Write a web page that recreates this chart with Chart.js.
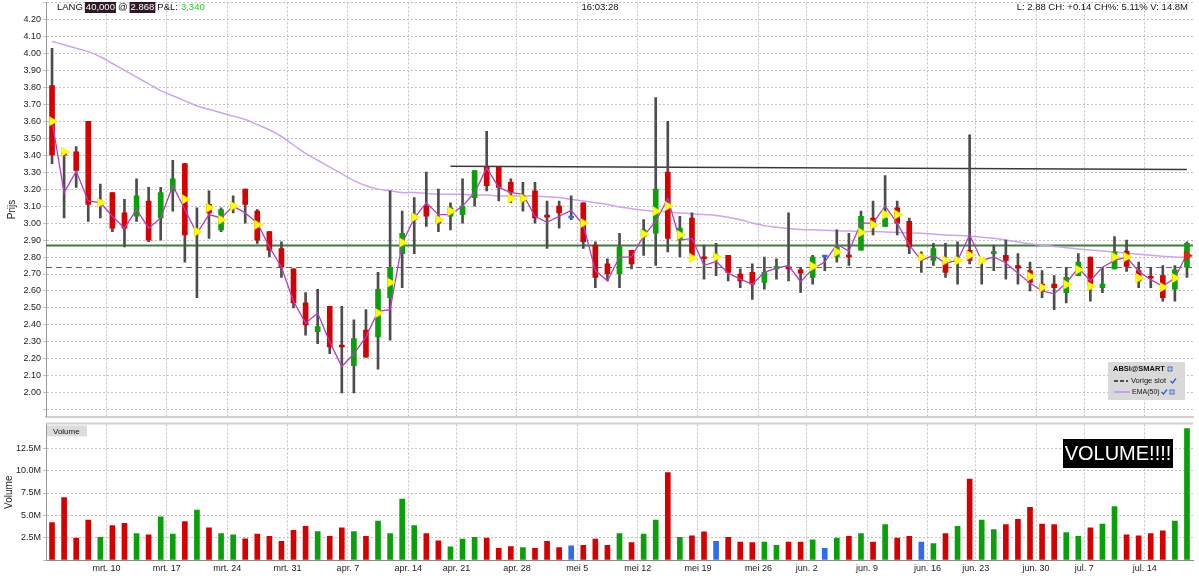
<!DOCTYPE html>
<html>
<head>
<meta charset="utf-8">
<script src="https://cdn.jsdelivr.net/npm/chart.js@4.4.0/dist/chart.umd.min.js"></script>
<style>
  body { margin: 0; background: #fff; }
  #wrap { position: relative; width: 1199px; height: 580px; overflow: hidden; }
  #price { position: absolute; left: 0; top: -5px; }
  #vol { position: absolute; left: 0; top: 417px; }
</style>
</head>
<body>
<div id="wrap">
  <canvas id="price" width="1199" height="429"></canvas>
  <canvas id="vol" width="1199" height="163"></canvas>
</div>
<script>
// trading days shown in the chart
const categories = [
  '2014-03-03','2014-03-04','2014-03-05','2014-03-06','2014-03-07','2014-03-10','2014-03-11','2014-03-12','2014-03-13','2014-03-14',
  '2014-03-17','2014-03-18','2014-03-19','2014-03-20','2014-03-21','2014-03-24','2014-03-25','2014-03-26','2014-03-27','2014-03-28',
  '2014-03-31','2014-04-01','2014-04-02','2014-04-03','2014-04-04','2014-04-07','2014-04-08','2014-04-09','2014-04-10','2014-04-11',
  '2014-04-14','2014-04-15','2014-04-16','2014-04-17','2014-04-21','2014-04-22','2014-04-23','2014-04-24','2014-04-25','2014-04-28',
  '2014-04-29','2014-04-30','2014-05-01','2014-05-02','2014-05-05','2014-05-06','2014-05-07','2014-05-08','2014-05-09','2014-05-12',
  '2014-05-13','2014-05-14','2014-05-15','2014-05-16','2014-05-19','2014-05-20','2014-05-21','2014-05-22','2014-05-23','2014-05-27',
  '2014-05-28','2014-05-29','2014-05-30','2014-06-02','2014-06-03','2014-06-04','2014-06-05','2014-06-06','2014-06-09','2014-06-10',
  '2014-06-11','2014-06-12','2014-06-13','2014-06-16','2014-06-17','2014-06-18','2014-06-19','2014-06-23','2014-06-24','2014-06-25',
  '2014-06-26','2014-06-27','2014-06-30','2014-07-01','2014-07-02','2014-07-03','2014-07-07','2014-07-08','2014-07-09','2014-07-10',
  '2014-07-11','2014-07-14','2014-07-15','2014-07-16','2014-07-17'
];

// week ticks on the time axis
const tickDates = ['2014-03-10','2014-03-17','2014-03-24','2014-03-31','2014-04-07','2014-04-14','2014-04-21','2014-04-28',
  '2014-05-05','2014-05-12','2014-05-19','2014-05-27','2014-06-02','2014-06-09','2014-06-16','2014-06-23','2014-06-30',
  '2014-07-07','2014-07-14'];
const tickLabels = ['mrt. 10','mrt. 17','mrt. 24','mrt. 31','apr. 7','apr. 14','apr. 21','apr. 28',
  'mei 5','mei 12','mei 19','mei 26','jun. 2','jun. 9','jun. 16','jun. 23','jun. 30','jul. 7','jul. 14'];

// OHLC
const opens = [3.81,3.42,3.42,3.60,3.11,3.18,3.06,3.04,3.13,3.03, 3.19,3.35,2.94,3.11,2.96,3.09,3.20,3.07,2.95,2.85,
  2.73,2.53,2.36,2.51,2.28,2.16,2.37,2.33,2.56,2.82, 3.02,3.10,3.03,3.04,3.05,3.15,3.33,3.33,3.24,3.13,
  3.19,3.045,3.10,3.03,3.12,2.87,2.76,2.70,2.84,2.92, 2.94,3.30,2.90,3.03,2.80,2.80,2.81,2.70,2.71,2.65,
  2.73,2.74,2.725,2.68,2.80,2.80,2.81,2.84,3.03,2.98, 3.09,3.01,2.80,2.78,2.77,2.775,2.84,2.775,2.82,2.81,
  2.75,2.72,2.64,2.64,2.59,2.69,2.80,2.62,2.73,2.835, 2.72,2.685,2.69,2.61,2.74];
const highs = [4.03,3.42,3.45,3.60,3.23,3.18,3.14,3.26,3.21,3.21, 3.37,3.35,3.09,3.19,3.09,3.16,3.20,3.08,2.95,2.89,
  2.73,2.59,2.61,2.51,2.51,2.43,2.49,2.71,3.19,3.07, 3.15,3.30,3.20,3.12,3.26,3.31,3.54,3.33,3.26,3.24,
  3.24,3.13,3.13,3.16,3.12,2.89,2.79,2.94,2.84,3.02, 3.74,3.60,3.04,3.06,2.87,2.88,2.81,2.73,2.76,2.80,
  2.79,3.06,2.74,2.81,2.80,2.96,2.94,3.07,3.13,3.28, 3.13,3.03,2.83,2.88,2.88,2.89,3.52,2.79,2.87,2.90,
  2.82,2.77,2.72,2.69,2.74,2.82,2.80,2.74,2.92,2.90, 2.77,2.74,2.75,2.75,2.89];
const lows = [3.35,3.03,3.21,3.01,3.03,2.95,2.86,3.01,2.89,2.90, 3.07,2.77,2.56,2.91,2.95,3.06,3.00,2.88,2.80,2.68,
  2.50,2.34,2.29,2.23,2.00,2.00,2.21,2.14,2.31,2.62, 2.82,2.98,2.95,2.96,3.00,3.10,3.19,3.13,3.12,3.07,
  3.00,2.85,2.97,3.02,2.85,2.62,2.66,2.62,2.73,2.81, 2.75,2.83,2.80,2.80,2.67,2.69,2.66,2.62,2.55,2.61,
  2.67,2.66,2.59,2.64,2.72,2.77,2.75,2.84,2.93,2.98, 2.93,2.82,2.71,2.75,2.68,2.64,2.76,2.64,2.72,2.67,
  2.64,2.60,2.56,2.49,2.53,2.69,2.54,2.59,2.73,2.715, 2.62,2.62,2.54,2.54,2.68];
const closes = [3.40,3.40,3.31,3.11,3.13,2.97,2.97,3.16,2.90,3.18, 3.26,2.93,2.96,3.06,3.08,3.11,3.11,2.90,2.84,2.74,
  2.53,2.40,2.39,2.27,2.27,2.32,2.21,2.61,2.74,2.94, 3.05,3.04,3.00,3.09,3.10,3.31,3.22,3.21,3.18,3.16,
  3.03,3.035,3.06,3.03,2.89,2.68,2.70,2.86,2.76,2.96, 3.20,2.91,2.97,2.81,2.79,2.80,2.71,2.66,2.64,2.71,
  2.745,2.73,2.705,2.80,2.80,2.86,2.80,3.04,2.98,3.03, 3.00,2.86,2.80,2.85,2.71,2.785,2.78,2.785,2.83,2.78,
  2.735,2.65,2.60,2.62,2.68,2.77,2.64,2.64,2.83,2.745, 2.66,2.675,2.56,2.725,2.88];

// thin magenta price line
const priceLine = [3.60,3.18,3.305,3.13,3.12,3.04,2.97,3.08,2.97,3.03, 3.22,3.08,2.94,3.05,3.03,3.10,3.06,3.00,2.86,2.74,
  2.54,2.41,2.47,2.30,2.155,2.23,2.33,2.48,2.49,2.88, 3.03,3.12,3.05,3.05,3.10,3.18,3.325,3.21,3.18,3.17,
  3.04,3.005,3.04,3.075,2.99,2.72,2.66,2.80,2.80,2.925, 3.01,3.145,2.90,2.91,2.75,2.775,2.705,2.67,2.64,2.71,
  2.735,2.75,2.655,2.73,2.77,2.875,2.835,3.00,3.00,3.10, 3.00,2.87,2.78,2.81,2.765,2.78,2.93,2.78,2.80,2.765,
  2.705,2.647,2.60,2.583,2.647,2.735,2.66,2.74,2.78,2.80, 2.715,2.667,2.628,2.676,2.818];

// EMA(50)
const ema50 = [4.07,4.05,4.03,4.01,3.98,3.94,3.90,3.86,3.82,3.78, 3.75,3.72,3.69,3.67,3.65,3.63,3.61,3.58,3.55,3.51,
  3.46,3.41,3.37,3.33,3.29,3.25,3.22,3.20,3.19,3.18, 3.18,3.175,3.17,3.17,3.17,3.165,3.165,3.16,3.16,3.16,
  3.16,3.155,3.15,3.14,3.13,3.12,3.11,3.095,3.085,3.075, 3.07,3.065,3.06,3.055,3.05,3.045,3.035,3.02,3.00,2.985,
  2.975,2.968,2.962,2.96,2.958,2.955,2.953,2.95,2.95,2.948, 2.945,2.942,2.94,2.935,2.93,2.927,2.923,2.917,2.91,2.90,
  2.888,2.878,2.87,2.862,2.855,2.848,2.842,2.836,2.83,2.823, 2.816,2.81,2.805,2.80,2.797];

// trade arrows
const arrows = [3.60,3.42,null,null,3.12,null,null,null,null,null, null,3.14,2.95,3.09,3.02,3.10,null,2.99,null,null,
  null,null,null,null,null,null,null,2.47,2.65,2.885, 3.035,null,3.02,3.07,null,null,null,null,3.145,3.145,
  null,null,null,null,3.00,null,null,null,null,2.935, 3.07,3.10,2.93,2.795,null,2.80,null,null,null,null,
  null,null,null,2.745,null,2.83,null,2.945,2.99,3.05, 3.05,null,2.80,null,2.78,2.78,2.81,2.78,null,null,
  null,2.686,2.62,null,2.638,2.725,2.628,null,2.80,2.80, 2.676,null,2.622,2.676,2.808];

// volume, millions
const volume = [4.2,7.0,2.45,4.47,2.53,3.85,4.1,2.97,2.82,4.83, 2.89,4.29,5.6,3.59,2.97,2.82,2.38,2.89,2.64,2.09,
  3.33,3.77,3.19,2.64,3.59,3.19,2.64,4.36,2.97,6.81, 3.85,2.97,2.16,1.47,2.34,2.53,2.45,1.32,1.50,1.39,
  1.32,2.09,1.39,1.58,1.65,2.34,1.65,2.97,1.94,2.89, 4.47,9.78,2.53,2.71,3.15,2.09,2.53,2.01,1.94,2.01,
  1.65,2.01,2.01,2.27,1.32,2.45,2.64,2.97,2.01,3.96, 2.45,2.64,2.01,1.83,2.97,3.77,9.05,4.47,3.41,3.96,
  4.54,5.9,4.03,3.96,3.08,2.64,3.59,4.03,5.97,2.82, 2.71,2.97,3.26,4.36,14.7];

// reference levels
const lastPrice = 2.868;
const prevClose = 2.74;
const trendFrom = 33, trendTo = 94;
const trendStart = 3.335, trendEnd = 3.315;

const RED = '#d60000', GREEN = '#0aa00a', BLUE = '#2f6cf0';
const FONT = '"Liberation Sans", Arial, sans-serif';
Chart.defaults.font.family = FONT;
Chart.defaults.font.size = 9;
Chart.defaults.color = '#222';

const candleColor = i => closes[i] > opens[i] ? GREEN : (closes[i] < opens[i] ? RED : BLUE);
const weekIdx = tickDates.map(d => categories.indexOf(d));
const weekGrid = ctx => weekIdx.includes(ctx.index) ? '#c2c2c2' : 'rgba(0,0,0,0)';

const bodies = categories.map((c, i) => [opens[i], closes[i]]);
const wicks = categories.map((c, i) => [lows[i], highs[i]]);
const trend = categories.map((c, i) => i === trendFrom ? trendStart : (i === trendTo ? trendEnd : null));

const levelsPlugin = {
  id: 'levels',
  beforeDatasetsDraw(chart) {
    const { ctx, chartArea: a, scales: { y } } = chart;
    ctx.save();
    ctx.strokeStyle = '#666';
    ctx.lineWidth = 1;
    ctx.setLineDash([6, 4]);
    let py = Math.round(y.getPixelForValue(prevClose)) + 0.5;
    ctx.beginPath(); ctx.moveTo(a.left, py); ctx.lineTo(a.right, py); ctx.stroke();
    ctx.setLineDash([]);
    ctx.strokeStyle = '#3d7d3d';
    ctx.lineWidth = 2;
    py = y.getPixelForValue(lastPrice);
    ctx.beginPath(); ctx.moveTo(a.left, py); ctx.lineTo(a.right, py); ctx.stroke();
    ctx.restore();
  }
};

// canvas is shifted up by 5px, so page y = local y - 5
const headerPlugin = {
  id: 'header',
  afterDraw(chart) {
    const c = chart.ctx;
    c.save();
    c.font = '9.5px ' + FONT;
    c.textBaseline = 'middle';
    let x = 57;
    const y = 12.5;
    const put = (t, col, bg) => {
      const w = c.measureText(t).width;
      if (bg) { c.fillStyle = bg; c.fillRect(x - 1, 7, w + 2, 11); }
      c.fillStyle = col;
      c.fillText(t, x, y);
      x += w + 3;
    };
    put('LANG', '#111');
    put('40,000', '#fff', '#2e1a24');
    put('@', '#111');
    put('2.868', '#fff', '#2e1a24');
    put('P&L:', '#111');
    put('3,340', '#22d022');
    c.fillStyle = '#111';
    c.textAlign = 'center';
    c.fillText('16:03:28', 600, y);
    c.textAlign = 'right';
    c.fillText('L: 2.88 CH: +0.14 CH%: 5.11% V: 14.8M', 1188, y);

    // legend box
    const bx = 1108, by = 367;
    c.fillStyle = '#d9d9d9';
    c.fillRect(bx, by, 77, 38);
    c.textAlign = 'left';
    c.fillStyle = '#111';
    c.font = 'bold 7.5px ' + FONT;
    c.fillText('ABSI@SMART', bx + 5, by + 7);
    c.font = '7.5px ' + FONT;
    c.fillText('Vorige slot', bx + 23, by + 19);
    c.font = '7px ' + FONT;
    c.fillText('EMA(50)', bx + 24, by + 30);
    c.strokeStyle = '#222';
    c.lineWidth = 1.5;
    c.setLineDash([4, 2]);
    c.beginPath(); c.moveTo(bx + 6, by + 19); c.lineTo(bx + 20, by + 19); c.stroke();
    c.setLineDash([]);
    c.strokeStyle = '#c9a0f0';
    c.lineWidth = 2;
    c.beginPath(); c.moveTo(bx + 6, by + 30); c.lineTo(bx + 22, by + 30); c.stroke();
    const check = (cx, cy) => {
      c.strokeStyle = '#2a62d8'; c.lineWidth = 1.3;
      c.beginPath(); c.moveTo(cx - 2.5, cy); c.lineTo(cx - 0.5, cy + 2); c.lineTo(cx + 3, cy - 2.5); c.stroke();
    };
    const globe = (cx, cy) => {
      c.fillStyle = '#5a7fb8'; c.beginPath(); c.arc(cx, cy, 3, 0, Math.PI * 2); c.fill();
      c.strokeStyle = '#dfe8f5'; c.lineWidth = 0.8;
      c.beginPath(); c.moveTo(cx - 3, cy); c.lineTo(cx + 3, cy); c.moveTo(cx, cy - 3); c.lineTo(cx, cy + 3); c.stroke();
    };
    globe(bx + 62, by + 7);
    check(bx + 65, by + 19);
    check(bx + 56, by + 30);
    globe(bx + 64, by + 30);
    c.restore();
  }
};

new Chart(document.getElementById('price'), {
  type: 'bar',
  data: {
    labels: categories,
    datasets: [
      { type: 'line', label: 'arrows', data: arrows, showLine: false, pointStyle: 'triangle', rotation: 90,
        pointRadius: 5.5, pointHoverRadius: 5.5, pointBorderWidth: 0.5,
        pointBackgroundColor: ctx => ctx.dataIndex === arrows.length - 1 ? '#f02020' : '#ffff00',
        pointBorderColor: ctx => ctx.dataIndex === arrows.length - 1 ? '#d01010' : '#e6e600', order: 0 },
      { type: 'line', label: 'price', data: priceLine, borderColor: '#b23ec6', borderWidth: 1.3,
        pointRadius: 0, tension: 0, order: 1 },
      { type: 'bar', label: 'body', data: bodies, grouped: false, barThickness: 5, minBarLength: 2,
        backgroundColor: ctx => candleColor(ctx.dataIndex), order: 2 },
      { type: 'bar', label: 'wick', data: wicks, grouped: false, barThickness: 2,
        backgroundColor: '#4d4d4d', order: 3 },
      { type: 'line', label: 'trend', data: trend, spanGaps: true, borderColor: '#3a3a3a', borderWidth: 1.5,
        pointRadius: 0, order: 4 },
      { type: 'line', label: 'EMA(50)', data: ema50, borderColor: '#cba4f4', borderWidth: 1.5,
        pointRadius: 0, tension: 0.4, order: 5 }
    ]
  },
  options: {
    responsive: false,
    animation: false,
    devicePixelRatio: 1,
    layout: { padding: { left: 0, right: 6, top: 0, bottom: 4 } },
    plugins: { legend: { display: false }, tooltip: { enabled: false } },
    scales: {
      x: {
        offset: true,
        ticks: { display: false, autoSkip: false },
        grid: { color: weekGrid, offset: true, drawTicks: false },
        border: { display: true, color: '#cfcfcf', width: 2, dash: [2, 2] }
      },
      y: {
        min: 1.86, max: 4.30,
        ticks: { stepSize: 0.1, includeBounds: false, padding: 2, color: '#222',
          callback: v => (v < 1.95 || v > 4.25) ? '' : v.toFixed(2) },
        grid: { color: '#c2c2c2', tickLength: 3 },
        border: { display: true, color: '#9a9a9a', dash: [2, 2] },
        title: { display: true, text: 'Prijs', color: '#222', font: { size: 10 }, padding: { top: 6, bottom: 0 } },
        afterFit(s) { s.width = 46; }
      }
    }
  },
  plugins: [levelsPlugin, headerPlugin]
});

// volume canvas starts at page y 417
const volPlugin = {
  id: 'volDecor',
  afterDraw(chart) {
    const { ctx: c, chartArea: a } = chart;
    c.save();
    c.strokeStyle = '#cfcfcf';
    c.lineWidth = 2;
    c.beginPath(); c.moveTo(a.left, a.top - 1); c.lineTo(a.right, a.top - 1); c.stroke();
    c.fillStyle = '#dcdcdc';
    c.fillRect(a.left + 1, a.top + 1, 40, 11);
    c.fillStyle = '#111';
    c.font = '8px ' + FONT;
    c.textBaseline = 'middle';
    c.fillText('Volume', a.left + 7, a.top + 7);
    c.fillStyle = '#000';
    c.fillRect(1063, 22, 110, 29);
    c.fillStyle = '#fff';
    c.font = '20px ' + FONT;
    c.textAlign = 'center';
    c.fillText('VOLUME!!!!', 1118, 37);
    c.restore();
  }
};

new Chart(document.getElementById('vol'), {
  type: 'bar',
  data: {
    labels: categories,
    datasets: [
      { label: 'Volume', data: volume, barThickness: 5, backgroundColor: ctx => candleColor(ctx.dataIndex) }
    ]
  },
  options: {
    responsive: false,
    animation: false,
    devicePixelRatio: 1,
    layout: { padding: { left: 0, right: 6, top: 0, bottom: 0 } },
    plugins: { legend: { display: false }, tooltip: { enabled: false } },
    scales: {
      x: {
        offset: true,
        ticks: { autoSkip: false, maxRotation: 0, padding: 3, labelOffset: -6, color: '#222',
          callback: (v, i) => { const k = weekIdx.indexOf(i); return k >= 0 ? tickLabels[k] : ''; } },
        grid: { color: weekGrid, offset: true, drawTicks: false },
        border: { display: true, color: '#8a8a8a', dash: [2, 2] },
        afterFit(s) { s.height = 20; }
      },
      y: {
        min: 0, max: 15.18,
        ticks: { stepSize: 2.5, includeBounds: false, padding: 2, color: '#222',
          callback: v => (v < 1 || v > 14) ? '' : v.toFixed(1) + 'M' },
        grid: { color: ctx => (ctx.tick && ctx.tick.value > 14) ? 'rgba(0,0,0,0)' : '#c2c2c2', tickLength: 3 },
        border: { display: true, color: '#9a9a9a', dash: [2, 2] },
        title: { display: true, text: 'Volume', color: '#222', font: { size: 10 }, padding: { top: 3, bottom: 0 } },
        afterFit(s) { s.width = 46; }
      }
    }
  },
  plugins: [volPlugin]
});
</script>
</body>
</html>
